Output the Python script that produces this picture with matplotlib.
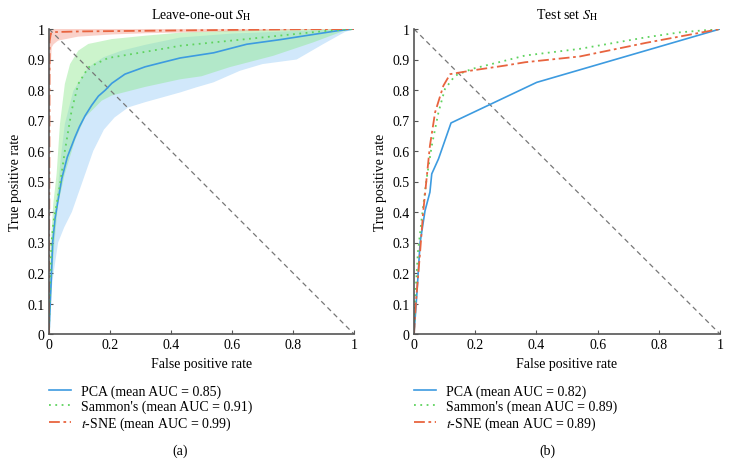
"""
ROC curves of three embeddings: leave-one-out (mean with band) and test set.
"""

import matplotlib
matplotlib.use('Agg')
import matplotlib.pyplot as plt

plt.rcParams['font.family'] = ['Liberation Serif', 'DejaVu Serif']
plt.rcParams['mathtext.fontset'] = 'stix'

# ---- leave-one-out S_H (panel a) ----
loo_pca_fpr = [0, 0.005, 0.012, 0.02, 0.03, 0.042, 0.06, 0.085, 0.1, 0.118, 0.14, 0.162,
               0.185, 0.206, 0.249, 0.315, 0.37, 0.43, 0.54, 0.648, 0.757, 0.866, 0.95, 1.0]
loo_pca_tpr = [0, 0.12, 0.30, 0.38, 0.44, 0.51, 0.58, 0.645, 0.68, 0.715, 0.75, 0.78,
               0.80, 0.822, 0.852, 0.876, 0.89, 0.905, 0.922, 0.95, 0.965, 0.982, 0.995, 1.0]
loo_pca_hi_fpr = [0, 0, 0.003, 0.01, 0.025, 0.039, 0.052, 0.08, 0.129, 0.178, 0.238, 0.315,
                  0.43, 0.6, 0.8, 1.0]
loo_pca_hi_tpr = [0, 0.1, 0.15, 0.3, 0.44, 0.58, 0.689, 0.798, 0.874, 0.907, 0.929, 0.948,
                  0.972, 0.985, 0.993, 1.0]
loo_pca_lo_fpr = [0, 0.003, 0.015, 0.03, 0.05, 0.075, 0.11, 0.145, 0.18, 0.215, 0.26, 0.315,
                  0.43, 0.484, 0.539, 0.626, 0.70, 0.812, 0.90, 0.97, 1.0]
loo_pca_lo_tpr = [0, 0.1, 0.2, 0.3, 0.35, 0.4, 0.5, 0.6, 0.67, 0.71, 0.743, 0.76,
                  0.792, 0.809, 0.825, 0.863, 0.885, 0.90, 0.951, 0.99, 1.0]

loo_sam_fpr = [0, 0.003, 0.008, 0.015, 0.025, 0.036, 0.052, 0.074, 0.096, 0.129, 0.194,
               0.315, 0.43, 0.648, 0.812, 0.92, 1.0]
loo_sam_tpr = [0, 0.15, 0.3, 0.37, 0.426, 0.49, 0.60, 0.732, 0.82, 0.874, 0.905,
               0.925, 0.945, 0.967, 0.984, 0.995, 1.0]
loo_sam_hi_fpr = [0, 0, 0.002, 0.006, 0.014, 0.025, 0.036, 0.052, 0.069, 0.096, 0.129,
                  0.206, 0.315, 0.43, 0.6, 0.8, 1.0]
loo_sam_hi_tpr = [0, 0.1, 0.15, 0.3, 0.426, 0.525, 0.689, 0.82, 0.885, 0.929, 0.951,
                  0.967, 0.978, 0.988, 0.995, 0.999, 1.0]
loo_sam_lo_fpr = [0, 0.008, 0.018, 0.03, 0.052, 0.085, 0.118, 0.173, 0.206, 0.315, 0.43,
                  0.5, 0.593, 0.735, 0.866, 0.97, 1.0]
loo_sam_lo_tpr = [0, 0.15, 0.3, 0.426, 0.525, 0.634, 0.71, 0.765, 0.782, 0.81, 0.835,
                  0.845, 0.875, 0.912, 0.956, 0.995, 1.0]

loo_tsne_fpr = [0, 0.002, 0.006, 0.02, 0.1, 0.3, 0.5, 0.8, 1.0]
loo_tsne_tpr = [0, 0.96, 0.985, 0.99, 0.992, 0.994, 0.996, 0.999, 1.0]
loo_tsne_hi_fpr = [0, 0, 0.002, 1.0]
loo_tsne_hi_tpr = [0, 0.9, 1.0, 1.0]
loo_tsne_lo_fpr = [0, 0.001, 0.004, 0.009, 0.015, 0.03, 0.096, 0.206, 0.315, 0.5, 0.8, 1.0]
loo_tsne_lo_tpr = [0, 0.69, 0.85, 0.94, 0.95, 0.962, 0.975, 0.982, 0.986, 0.99, 0.996, 1.0]

loo_auc = [0.85, 0.91, 0.99]

# ---- test set S_H (panel b) ----
test_pca_fpr = [0, 0.009, 0.02, 0.036, 0.052, 0.058, 0.08, 0.121, 0.401, 1.0]
test_pca_tpr = [0, 0.126, 0.30, 0.404, 0.465, 0.525, 0.574, 0.692, 0.825, 1.0]
test_sam_fpr = [0, 0.003, 0.013, 0.025, 0.041, 0.058, 0.08, 0.101, 0.134, 0.189, 0.297,
                0.363, 0.542, 0.76, 0.869, 1.0]
test_sam_tpr = [0, 0.105, 0.27, 0.377, 0.508, 0.617, 0.727, 0.803, 0.847, 0.869, 0.896,
                0.913, 0.935, 0.973, 0.989, 1.0]
test_tsne_fpr = [0, 0.006, 0.02, 0.03, 0.041, 0.052, 0.069, 0.096, 0.118, 0.189, 0.297,
                 0.363, 0.542, 0.76, 1.0]
test_tsne_tpr = [0, 0.10, 0.27, 0.40, 0.508, 0.617, 0.727, 0.814, 0.852, 0.864, 0.88,
                 0.891, 0.91, 0.955, 1.0]
test_auc = [0.82, 0.89, 0.89]

method_names = ['PCA', "Sammon's", '$t$-SNE']
blue = '#3d9be0'
green = '#5fd35f'
red = '#e8643f'


def style_axes(ax, title):
    ax.set_xlim(0, 1)
    ax.set_ylim(0, 1)
    ax.set_xticks([0, 0.2, 0.4, 0.6, 0.8, 1])
    ax.set_yticks([i / 10 for i in range(11)])
    ax.xaxis.set_major_formatter(plt.FormatStrFormatter('%g'))
    ax.yaxis.set_major_formatter(plt.FormatStrFormatter('%g'))
    ax.tick_params(direction='in', length=3, width=0.8, labelsize=10, color='#555555', pad=3)
    for side in ['top', 'right']:
        ax.spines[side].set_visible(False)
    for side in ['left', 'bottom']:
        ax.spines[side].set_color('#555555')
        ax.spines[side].set_linewidth(1.2)
    ax.plot([0, 1], [1, 0], color='#777777', lw=0.9, ls=(0, (4, 3)), zorder=1)
    ax.text(0.5, 1.05, title, transform=ax.transAxes, ha='center', va='center', fontsize=10)
    ax.set_xlabel('False positive rate', fontsize=10)
    ax.set_ylabel('True positive rate', fontsize=10)
    ax.xaxis.set_label_coords(0.5, -0.075)
    ax.yaxis.set_label_coords(-0.088, 0.5)


def band(ax, hi_x, hi_y, lo_x, lo_y, color):
    xs = list(hi_x) + list(lo_x)[::-1]
    ys = list(hi_y) + list(lo_y)[::-1]
    ax.fill(xs, ys, color=color, alpha=0.45, lw=0, zorder=0)


fig = plt.figure(figsize=(7.3, 4.77), dpi=100)
ax1 = fig.add_axes([49 / 730, 1 - 335 / 477, 305 / 730, 305 / 477])
ax2 = fig.add_axes([414 / 730, 1 - 335 / 477, 306 / 730, 305 / 477])

band(ax1, loo_pca_hi_fpr, loo_pca_hi_tpr, loo_pca_lo_fpr, loo_pca_lo_tpr, '#99ccf7')
band(ax1, loo_sam_hi_fpr, loo_sam_hi_tpr, loo_sam_lo_fpr, loo_sam_lo_tpr, '#8ee88e')
band(ax1, loo_tsne_hi_fpr, loo_tsne_hi_tpr, loo_tsne_lo_fpr, loo_tsne_lo_tpr, '#f59a88')

lines1 = [
    ax1.plot(loo_pca_fpr, loo_pca_tpr, color=blue, lw=1.2, ls='-')[0],
    ax1.plot(loo_sam_fpr, loo_sam_tpr, color=green, lw=1.3, ls=(0, (1, 2.5)))[0],
    ax1.plot(loo_tsne_fpr, loo_tsne_tpr, color=red, lw=1.3, ls=(0, (6, 2, 1.5, 2)))[0],
]
lines2 = [
    ax2.plot(test_pca_fpr, test_pca_tpr, color=blue, lw=1.2, ls='-')[0],
    ax2.plot(test_sam_fpr, test_sam_tpr, color=green, lw=1.3, ls=(0, (1, 2.5)))[0],
    ax2.plot(test_tsne_fpr, test_tsne_tpr, color=red, lw=1.3, ls=(0, (6, 2, 1.5, 2)))[0],
]

style_axes(ax1, r'Leave-one-out $S_{\mathrm{H}}$')
style_axes(ax2, r'Test set $S_{\mathrm{H}}$')

for ax, lines, aucs, x0, tag_x, tag in [(ax1, lines1, loo_auc, 49, 180, '(a)'),
                                        (ax2, lines2, test_auc, 414, 547, '(b)')]:
    labels = [f'{n} (mean AUC = {a:.2f})' for n, a in zip(method_names, aucs)]
    fig.legend(lines, labels, loc='upper left', bbox_to_anchor=(x0 / 730, 1 - 386 / 477),
               frameon=False, fontsize=10, handlelength=1.6, handletextpad=0.7,
               labelspacing=0.1, borderpad=0, borderaxespad=0)
    fig.text(tag_x / 730, 1 - 451 / 477, tag, ha='center', va='center', fontsize=10)

fig.savefig('out.png', dpi=100)
